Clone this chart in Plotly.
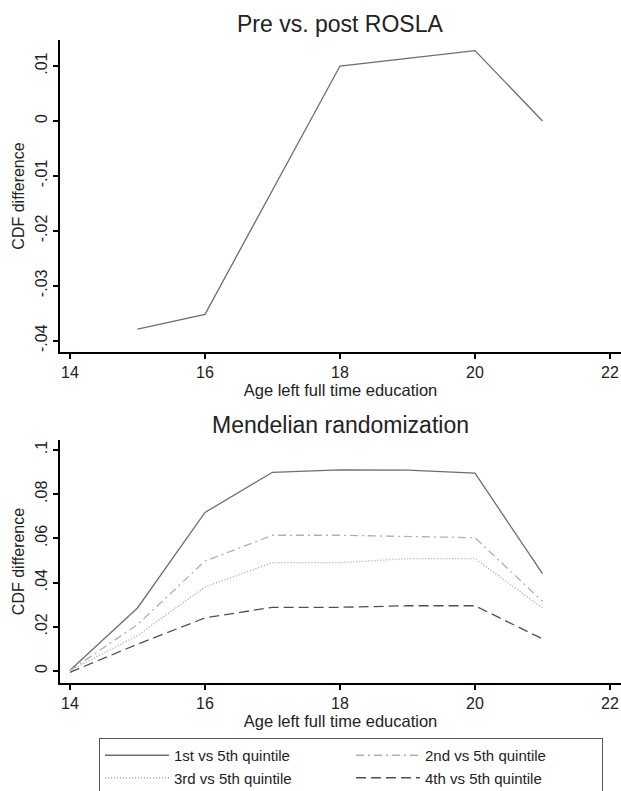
import plotly.graph_objects as go

# Top panel: Pre vs. post ROSLA
rosla_age = [15, 16, 18, 20, 21]
rosla_diff = [-0.0379, -0.0352, 0.0100, 0.0128, 0.0000]

# Bottom panel: Mendelian randomization
mr_age = [14, 15, 16, 17, 18, 19, 20, 21]
q1_vs_q5 = [0.0003, 0.0285, 0.0717, 0.0899, 0.0910, 0.0909, 0.0895, 0.0440]
q2_vs_q5 = [0.0002, 0.0210, 0.0497, 0.0614, 0.0614, 0.0610, 0.0603, 0.0315]
q3_vs_q5 = [0.0001, 0.0160, 0.0380, 0.0490, 0.0490, 0.0508, 0.0508, 0.0285]
q4_vs_q5 = [-0.0006, 0.0121, 0.0240, 0.0288, 0.0288, 0.0295, 0.0295, 0.0145]
series_names = ["1st vs 5th quintile", "2nd vs 5th quintile",
                "3rd vs 5th quintile", "4th vs 5th quintile"]

top_ticks = [-0.04, -0.03, -0.02, -0.01, 0, 0.01]
top_ticktext = ["-.04", "-.03", "-.02", "-.01", "0", ".01"]
bot_ticks = [0, 0.02, 0.04, 0.06, 0.08, 0.1]
bot_ticktext = ["0", ".02", ".04", ".06", ".08", ".1"]
x_ticks = [14, 16, 18, 20, 22]

FONT = "Liberation Sans, Arial, Helvetica, sans-serif"
TXT = "#222222"

fig = go.Figure()
fig.add_trace(go.Scatter(x=rosla_age, y=rosla_diff, mode="lines",
                         line=dict(color="#6e6e6e", width=1.3),
                         xaxis="x", yaxis="y", showlegend=False))

styles = [
    dict(color="#6e6e6e", width=1.3, dash="solid"),
    dict(color="#b0b0b0", width=1.3, dash="8px,4px,2px,4px"),
    dict(color="#a4a4a4", width=1.3, dash="1px,2px"),
    dict(color="#505050", width=1.3, dash="10px,5px"),
]
for name, vals, st in zip(series_names, [q1_vs_q5, q2_vs_q5, q3_vs_q5, q4_vs_q5], styles):
    fig.add_trace(go.Scatter(x=mr_age, y=vals, mode="lines", name=name,
                             line=st, xaxis="x2", yaxis="y2"))

W, H = 621, 791
L = 60


def py(ref_y):
    return 1 - ref_y / H


def px(ref_x):
    return (ref_x - L) / (W - L)


axis_common = dict(showline=True, linecolor="black", linewidth=2, ticks="outside",
                   ticklen=5, tickwidth=2, tickcolor="black", showgrid=False,
                   zeroline=False, automargin=False, ticklabeloverflow="allow",
                   tickfont=dict(family=FONT, size=16, color=TXT))

xtitle = dict(text="Age left full time education", font=dict(size=16.5), standoff=4)
ytitle = dict(text="CDF difference", font=dict(size=16), standoff=4)

fig.update_layout(
    width=W, height=H,
    margin=dict(l=L, r=0, t=0, b=0, autoexpand=False),
    paper_bgcolor="white", plot_bgcolor="white",
    font=dict(family=FONT, color=TXT),
    xaxis=dict(domain=[0, 1], anchor="y", range=[13.852, 22.163], tickvals=x_ticks,
               title=xtitle, **axis_common),
    yaxis=dict(domain=[py(352), py(40)], anchor="x", range=[-0.04206, 0.01473],
               tickvals=top_ticks, ticktext=top_ticktext, tickangle=-90,
               title=ytitle, **axis_common),
    xaxis2=dict(domain=[0, 1], anchor="y2", range=[13.852, 22.163], tickvals=x_ticks,
                title=xtitle, **axis_common),
    yaxis2=dict(domain=[py(683), py(440)], anchor="x2", range=[-0.00545, 0.1045],
                tickvals=bot_ticks, ticktext=bot_ticktext, tickangle=-90,
                title=ytitle, **axis_common),
    legend=dict(orientation="h", x=px(99), xanchor="left",
                y=py(738), yanchor="top", yref="paper",
                bordercolor="#555555", borderwidth=1, bgcolor="white",
                font=dict(family=FONT, size=15, color=TXT),
                itemwidth=64, entrywidth=172, tracegroupgap=0),
    annotations=[
        dict(text="Pre vs. post ROSLA", x=px(340), y=py(24),
             xref="paper", yref="paper", showarrow=False, xanchor="center", yanchor="middle",
             font=dict(family=FONT, size=23, color=TXT)),
        dict(text="Mendelian randomization", x=px(340), y=py(425),
             xref="paper", yref="paper", showarrow=False, xanchor="center", yanchor="middle",
             font=dict(family=FONT, size=23, color=TXT)),
    ],
)

fig.write_html(
    "out.html",
    config={"displayModeBar": False},
    post_script="document.body.style.margin='0';document.body.style.overflow='hidden';",
)
